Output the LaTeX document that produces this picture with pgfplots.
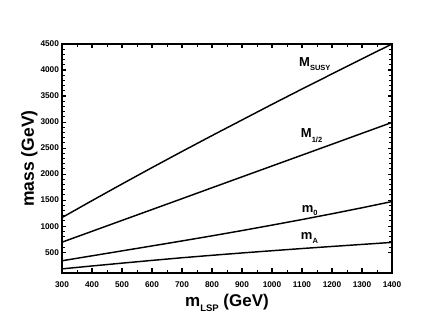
\documentclass[border=0pt]{standalone}
\usepackage{fontspec}
\setmainfont{Liberation Sans}
\usepackage{pgfplots}
\pgfplotsset{compat=1.18}
% lowered subscript in text font
\newcommand{\lsub}[2]{\raisebox{-#2}{\fontsize{7.5}{7.5}\selectfont\bfseries #1}}
\begin{document}
\begin{tikzpicture}
\useasboundingbox (-62pt,-50pt) rectangle (370pt,273pt);
\begin{axis}[
    at={(0pt,0pt)}, anchor=south west,
    width=330pt, height=229pt, scale only axis,
    xmin=300, xmax=1400,
    ymin=100, ymax=4500,
    xtick={300,400,...,1400},
    ytick={500,1000,...,4500},
    minor x tick num=1,
    minor y tick num=4,
    tick align=inside,
    major tick length=4.5pt,
    minor tick length=2.8pt,
    major tick style={line width=1.1pt, black},
    minor tick style={line width=0.9pt, black},
    axis line style={line width=1.5pt},
    tick label style={font=\fontsize{8.3}{9}\selectfont\bfseries},
    yticklabel style={xshift=0.5pt},
    xticklabel style={yshift=-5.5pt},
    /pgf/number format/assume math mode=true,
    /pgf/number format/1000 sep={},
    every axis x label/.style={at={(axis description cs:0.5,-0.148)}, anchor=base,
        font=\fontsize{17}{18}\selectfont\bfseries},
    every axis y label/.style={at={(axis description cs:-0.085,0.5)}, rotate=90, anchor=base,
        font=\fontsize{17.5}{18}\selectfont\bfseries},
    xlabel={m\lsub{\fontsize{9.5}{9.5}\selectfont LSP}{5pt} (GeV)},
    ylabel={mass (GeV)},
    clip=false,
]
\addplot[black, line width=1.45pt] coordinates {
    (300,1165) (400,1490) (500,1810) (600,2125) (700,2435) (800,2740)
    (900,3040) (1000,3340) (1100,3635) (1200,3925) (1300,4215) (1400,4500)
};
\addplot[black, line width=1.45pt] coordinates {
    (300,692) (400,901) (500,1110) (600,1319) (700,1528) (800,1738)
    (900,1947) (1000,2156) (1100,2365) (1200,2574) (1300,2784) (1400,2993)
};
\addplot[black, line width=1.45pt] coordinates {
    (300,335) (400,430) (500,525) (600,620) (700,716) (800,814)
    (900,915) (1000,1020) (1100,1127) (1200,1238) (1300,1353) (1400,1473)
};
\addplot[black, line width=1.45pt] coordinates {
    (300,179) (400,235) (500,289) (600,342) (700,393) (800,440)
    (900,485) (1000,528) (1100,570) (1200,610) (1300,649) (1400,688)
};
\node[anchor=base west, inner sep=0pt, font=\fontsize{13}{13}\selectfont\bfseries]
    at (axis cs:1090,4069) {M\lsub{SUSY}{4pt}};
\node[anchor=base west, inner sep=0pt, font=\fontsize{13}{13}\selectfont\bfseries]
    at (axis cs:1096,2711) {M\lsub{1/2}{5pt}};
\node[anchor=base west, inner sep=0pt, font=\fontsize{13}{13}\selectfont\bfseries]
    at (axis cs:1099,1262) {m\lsub{0}{3pt}};
\node[anchor=base west, inner sep=0pt, font=\fontsize{13}{13}\selectfont\bfseries]
    at (axis cs:1096,737) {m\lsub{A}{4pt}};
\end{axis}
\end{tikzpicture}
\end{document}
